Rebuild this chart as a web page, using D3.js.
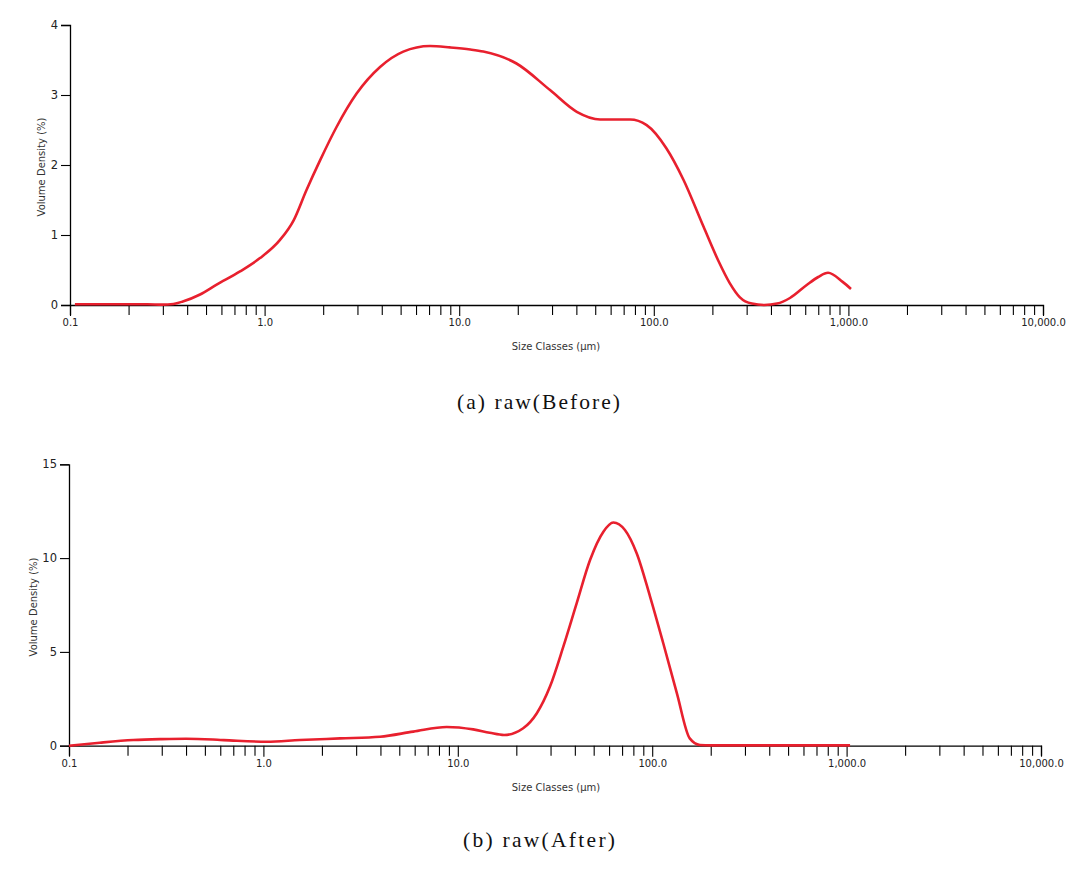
<!DOCTYPE html>
<html>
<head>
<meta charset="utf-8">
<script src="https://cdn.jsdelivr.net/npm/d3@7/dist/d3.min.js"></script>
<style>
  html, body { margin: 0; padding: 0; background: #fff; }
  svg { display: block; }
</style>
</head>
<body>
<svg id="chart" width="1080" height="875"></svg>
<script>
// ---- Data ----
const beforeSize = [0.106, 0.15, 0.2, 0.25, 0.298, 0.34, 0.38, 0.466, 0.567, 0.748, 0.947, 1.2, 1.41, 1.64, 1.93, 2.35, 2.97, 3.92, 5.16, 7.08, 8.97, 11.4, 13.3, 19.7, 29.3, 40.2, 53, 64, 75.5, 91.9, 116, 142, 180, 214, 246, 277, 319, 370, 430, 501, 613, 700, 786, 934, 1031];
const beforeDensity = [0.01, 0.01, 0.01, 0.01, 0.005, 0.015, 0.05, 0.15, 0.29, 0.48, 0.67, 0.93, 1.21, 1.64, 2.07, 2.55, 3.02, 3.40, 3.62, 3.70, 3.68, 3.65, 3.62, 3.45, 3.07, 2.76, 2.65, 2.65, 2.65, 2.57, 2.24, 1.79, 1.12, 0.64, 0.31, 0.11, 0.02, 0.0, 0.02, 0.1, 0.29, 0.40, 0.46, 0.33, 0.23];

const afterSize = [0.1, 0.144, 0.214, 0.30, 0.40, 0.55, 0.70, 1.04, 1.54, 2.48, 3.98, 5.9, 8.77, 12.0, 14.6, 17.3, 21.7, 25.5, 29.8, 34.9, 40.9, 47.9, 56.1, 63.1, 72.4, 83.2, 97.5, 114, 134, 156, 176, 200, 300, 500, 800, 1042];
const afterDensity = [0.0, 0.16, 0.30, 0.35, 0.37, 0.33, 0.27, 0.21, 0.30, 0.39, 0.48, 0.75, 1.0, 0.87, 0.69, 0.57, 0.93, 1.73, 3.15, 5.28, 7.6, 9.9, 11.41, 11.9, 11.5, 10.26, 7.95, 5.46, 2.79, 0.39, 0.04, 0.02, 0.02, 0.02, 0.02, 0.02];

const xDomain = [0.1, 10000];
const topYTicks = [0, 1, 2, 3, 4];
const bottomYTicks = [0, 5, 10, 15];
const xLabelValues = [0.1, 1, 10, 100, 1000, 10000];

const captions = ["(a)  raw(Before)", "(b)  raw(After)"];
const yTitle = "Volume Density (%)";
const xTitle = "Size Classes (μm)";

// ---- Drawing ----
const svg = d3.select("#chart");
const lineColor = "#e8202e";
const tickFont = "DejaVu Sans, Verdana, sans-serif";

const xTickValues = [];
for (let e = -1; e < 4; e++) {
  for (let m = 1; m <= 9; m++) xTickValues.push(+(m * Math.pow(10, e)).toPrecision(3));
}
xTickValues.push(10000);
const isMajor = v => xLabelValues.some(d => Math.abs(d - v) / d < 1e-6);
const fmt = d3.format(",.1f");

function panel(cfg) {
  const g = svg.append("g");
  const x = d3.scaleLog().domain(xDomain).range([cfg.left, cfg.right]);
  const y = d3.scaleLinear().domain([0, cfg.yMax]).range([cfg.bottom, cfg.top]);

  const xAxis = d3.axisBottom(x)
    .tickValues(xTickValues)
    .tickSizeOuter(0)
    .tickSize(10)
    .tickPadding(4)
    .tickFormat(v => isMajor(v) ? fmt(v) : "");
  const gx = g.append("g").attr("transform", `translate(0,${cfg.bottom})`).call(xAxis);
  gx.select(".domain").attr("stroke", "#000").attr("stroke-width", 1.3);
  gx.selectAll(".tick line").attr("stroke", "#000").attr("stroke-width", 1.1)
    .attr("y2", d => isMajor(d) ? 11 : 10);
  gx.selectAll(".tick text").attr("font-family", tickFont).attr("font-size", 10).attr("fill", "#222");

  const yAxis = d3.axisLeft(y)
    .tickValues(cfg.yTicks)
    .tickSizeOuter(0)
    .tickSize(9)
    .tickPadding(3)
    .tickFormat(d3.format("d"));
  const gy = g.append("g").attr("transform", `translate(${cfg.left},0)`).call(yAxis);
  gy.select(".domain").attr("stroke", "#000").attr("stroke-width", 1.3);
  gy.selectAll(".tick line").attr("stroke", "#000").attr("stroke-width", 1.1);
  gy.selectAll(".tick text").attr("font-family", tickFont).attr("font-size", 11.5).attr("fill", "#222");

  const line = d3.line()
    .x((d, i) => x(cfg.xs[i]))
    .y(d => y(d))
    .curve(d3.curveMonotoneX);
  g.append("path")
    .datum(cfg.ys)
    .attr("fill", "none")
    .attr("stroke", lineColor)
    .attr("stroke-width", 2.6)
    .attr("stroke-linejoin", "round")
    .attr("d", line);

  g.append("text")
    .attr("transform", `translate(${cfg.yTitleX},${(cfg.top + cfg.bottom) / 2 + 2}) rotate(-90)`)
    .attr("text-anchor", "middle")
    .attr("font-family", tickFont)
    .attr("font-size", 10)
    .attr("fill", "#333")
    .text(yTitle);
  g.append("text")
    .attr("x", 556).attr("y", cfg.xTitleY)
    .attr("text-anchor", "middle")
    .attr("font-family", tickFont)
    .attr("font-size", 10)
    .attr("fill", "#333")
    .text(xTitle);

  g.append("text")
    .attr("x", cfg.capX).attr("y", cfg.capY)
    .attr("font-family", "Liberation Serif, Times New Roman, serif")
    .attr("font-size", 21.5)
    .attr("fill", "#111")
    .attr("textLength", cfg.capW)
    .attr("lengthAdjust", "spacing")
    .text(cfg.caption);
}

panel({
  left: 70, right: 1043, top: 25, bottom: 305, yMax: 4, yTicks: topYTicks,
  xs: beforeSize, ys: beforeDensity,
  yTitleX: 45, xTitleY: 350,
  caption: captions[0], capX: 457, capY: 409, capW: 163
});

panel({
  left: 69, right: 1041, top: 464.3, bottom: 745.7, yMax: 15, yTicks: bottomYTicks,
  xs: afterSize, ys: afterDensity,
  yTitleX: 37, xTitleY: 791,
  caption: captions[1], capX: 463, capY: 847, capW: 152
});
</script>
</body>
</html>
